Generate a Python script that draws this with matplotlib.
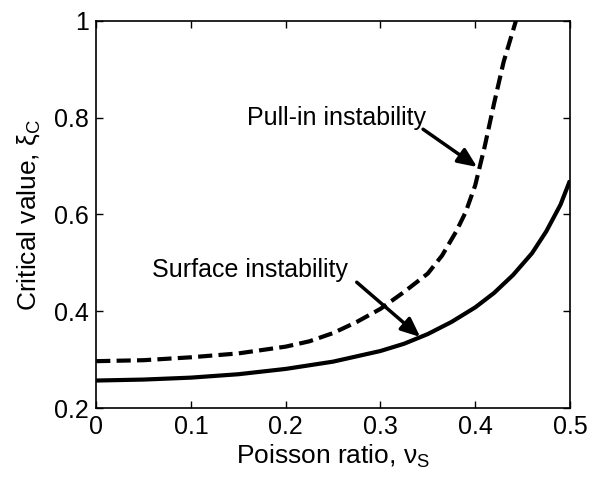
import matplotlib
matplotlib.use("Agg")
import matplotlib.pyplot as plt

plt.rcParams['font.family'] = ['Liberation Sans', 'DejaVu Sans']
plt.rcParams['mathtext.fontset'] = 'custom'
plt.rcParams['mathtext.rm'] = 'Liberation Sans'
plt.rcParams['mathtext.it'] = 'Liberation Sans:italic'

# Data
nu_pull = [0.0, 0.05, 0.10, 0.15, 0.20, 0.225, 0.25, 0.275, 0.30, 0.325, 0.35, 0.365,
           0.38, 0.39, 0.40, 0.41, 0.42, 0.43, 0.443]
xi_pull = [0.297, 0.299, 0.305, 0.313, 0.327, 0.338, 0.355, 0.378, 0.405, 0.44, 0.478, 0.515,
           0.565, 0.605, 0.66, 0.74, 0.83, 0.915, 1.0]

nu_surf = [0.0, 0.05, 0.10, 0.15, 0.20, 0.25, 0.30, 0.325, 0.35, 0.375, 0.40, 0.42,
           0.44, 0.46, 0.475, 0.49, 0.50]
xi_surf = [0.257, 0.259, 0.263, 0.270, 0.281, 0.296, 0.318, 0.333, 0.353, 0.378, 0.408, 0.438,
           0.475, 0.52, 0.565, 0.62, 0.67]

xticks = [0, 0.1, 0.2, 0.3, 0.4, 0.5]
xtick_labels = ['0', '0.1', '0.2', '0.3', '0.4', '0.5']
yticks = [0.2, 0.4, 0.6, 0.8, 1.0]
ytick_labels = ['0.2', '0.4', '0.6', '0.8', '1']

fig = plt.figure(figsize=(5.9, 4.83), dpi=100)
ax = fig.add_axes([0.163, 0.155, 0.803, 0.802])

ax.plot(nu_surf, xi_surf, color='black', lw=3.0, solid_capstyle='butt')
ax.plot(nu_pull, xi_pull, color='black', lw=3.0, dashes=(3.4, 1.5))

ax.set_xlim(0, 0.5)
ax.set_ylim(0.2, 1.0)
ax.set_xticks(xticks)
ax.set_xticklabels(xtick_labels)
ax.set_yticks(yticks)
ax.set_yticklabels(ytick_labels)
ax.tick_params(direction='in', length=5, width=1, top=True, right=True,
               labelsize=18, pad=5)
for s in ax.spines.values():
    s.set_linewidth(1.2)

ax.set_xlabel('Poisson ratio, ν$_{\\mathregular{S}}$', fontsize=19, labelpad=3)
ax.set_ylabel('Critical value, ξ$_{\\mathregular{C}}$', fontsize=19, labelpad=9)

arrowprops = dict(arrowstyle='-|>,head_length=1.15,head_width=0.5', color='black', lw=2.5,
                  shrinkA=0, shrinkB=0)
ax.text(0.159, 0.80, 'Pull-in instability', fontsize=18, va='center', ha='left')
ax.annotate('', xy=(0.402, 0.698), xytext=(0.345, 0.776), arrowprops=arrowprops)
ax.text(0.059, 0.485, 'Surface instability', fontsize=18, va='center', ha='left')
ax.annotate('', xy=(0.342, 0.347), xytext=(0.275, 0.46), arrowprops=arrowprops)

fig.savefig('out.png', dpi=100)
